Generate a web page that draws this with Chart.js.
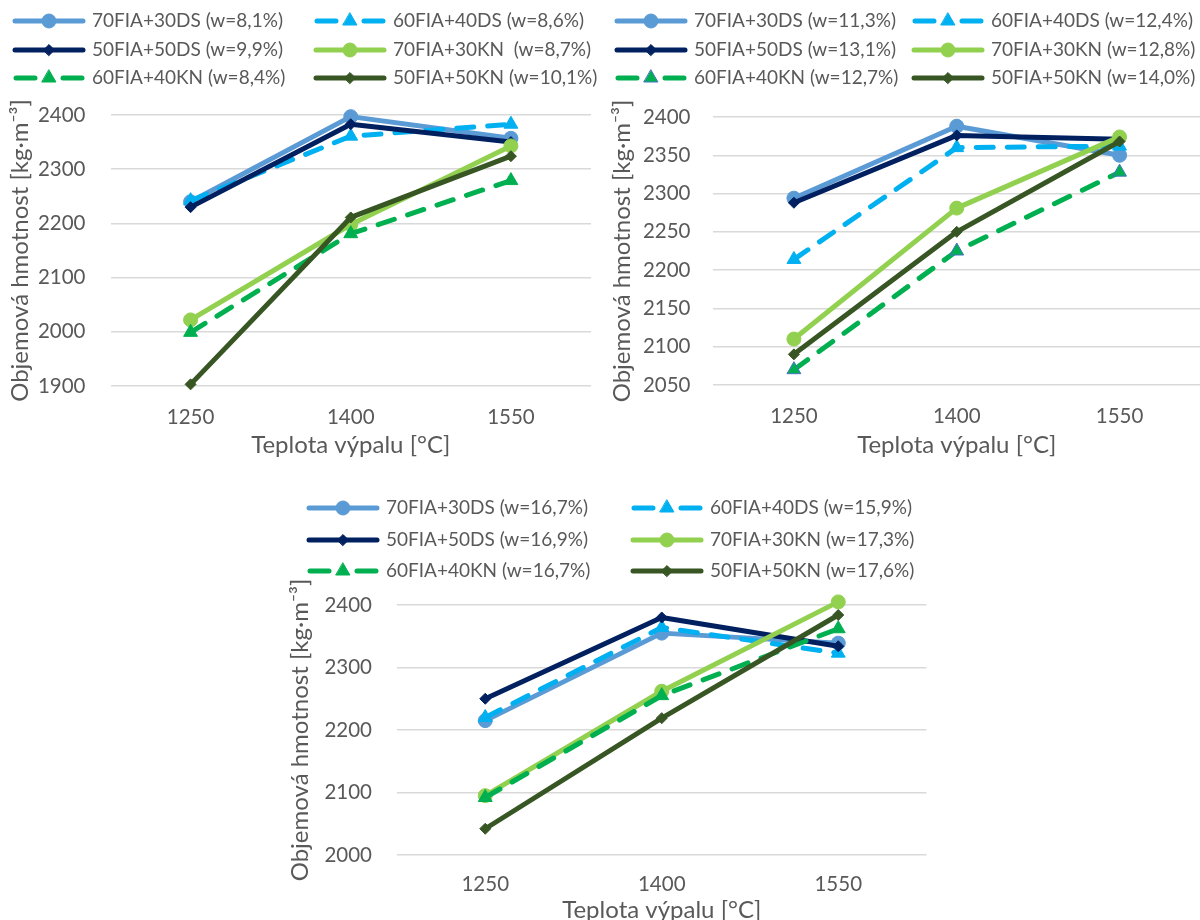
<!DOCTYPE html>
<html>
<head>
<meta charset="utf-8">
<script src="https://cdn.jsdelivr.net/npm/chart.js@4/dist/chart.umd.min.js"></script>
<style>
  html, body { margin: 0; padding: 0; background: #fff; width: 1200px; height: 920px; overflow: hidden; }
  .box { position: absolute; overflow: hidden; }
</style>
</head>
<body>
<div class="box" style="left:0;top:0;width:600px;height:460px"><canvas id="c1" width="600" height="460"></canvas></div>
<div class="box" style="left:600px;top:0;width:600px;height:460px"><canvas id="c2" width="610" height="460"></canvas></div>
<div class="box" style="left:280px;top:490px;width:660px;height:430px"><canvas id="c3" width="660" height="445"></canvas></div>
<script>
const temps = ["1250", "1400", "1550"];

// chart 1 - top left
const legend1 = ["70FIA+30DS (w=8,1%)", "60FIA+40DS (w=8,6%)", "50FIA+50DS (w=9,9%)",
  "70FIA+30KN  (w=8,7%)", "60FIA+40KN (w=8,4%)", "50FIA+50KN (w=10,1%)"];
const c1_70DS = [2240, 2397, 2357];
const c1_60DS = [2242, 2361, 2383];
const c1_50DS = [2230, 2383, 2350];
const c1_70KN = [2022, 2198, 2343];
const c1_60KN = [1999, 2181, 2279];
const c1_50KN = [1903, 2211, 2324];

// chart 2 - top right
const legend2 = ["70FIA+30DS (w=11,3%)", "60FIA+40DS (w=12,4%)", "50FIA+50DS (w=13,1%)",
  "70FIA+30KN (w=12,8%)", "60FIA+40KN (w=12,7%)", "50FIA+50KN (w=14,0%)"];
const c2_70DS = [2294, 2388, 2350];
const c2_60DS = [2214, 2360, 2362];
const c2_50DS = [2288, 2376, 2371];
const c2_70KN = [2110, 2281, 2374];
const c2_60KN = [2070, 2225, 2328];
const c2_50KN = [2090, 2250, 2368];

// chart 3 - bottom
const legend3 = ["70FIA+30DS (w=16,7%)", "60FIA+40DS (w=15,9%)", "50FIA+50DS (w=16,9%)",
  "70FIA+30KN (w=17,3%)", "60FIA+40KN (w=16,7%)", "50FIA+50KN (w=17,6%)"];
const c3_70DS = [2215, 2355, 2339];
const c3_60DS = [2220, 2364, 2323];
const c3_50DS = [2250, 2380, 2334];
const c3_70KN = [2095, 2262, 2405];
const c3_60KN = [2092, 2255, 2362];
const c3_50KN = [2042, 2219, 2384];

const styles = [
  { color: "#5B9BD5", point: "circle", r: 7, dash: null },
  { color: "#00B0F0", point: "triangle", r: 8, dash: [17, 14] },
  { color: "#002060", point: "rectRot", r: 5.5, dash: null },
  { color: "#92D050", point: "circle", r: 7, dash: null },
  { color: "#00B050", point: "triangle", r: 8, dash: [17, 14] },
  { color: "#375623", point: "rectRot", r: 5.5, dash: null }
];

Chart.defaults.font.family = "Lato, 'Open Sans', sans-serif";
Chart.defaults.color = "#595959";

// legend in two columns, line + marker sample
const legendGrid = {
  id: "legendGrid",
  afterDraw(chart, args, opts) {
    const ctx = chart.ctx;
    ctx.save();
    chart.data.datasets.forEach((ds, i) => {
      const x = opts.cols[i % 2];
      const y = opts.rows[Math.floor(i / 2)];
      const w = 72;
      ctx.strokeStyle = ds.borderColor;
      ctx.lineWidth = ds.borderWidth;
      ctx.lineCap = "round";
      ctx.beginPath();
      if (ds.borderDash.length) {
        ctx.moveTo(x + 3, y); ctx.lineTo(x + 22, y);
        ctx.moveTo(x + w - 22, y); ctx.lineTo(x + w - 3, y);
      } else {
        ctx.moveTo(x + 2, y); ctx.lineTo(x + w - 2, y);
      }
      ctx.stroke();
      ctx.fillStyle = ds.pointBackgroundColor;
      ctx.strokeStyle = ds.pointBorderColor;
      ctx.lineWidth = 1;
      Chart.helpers.drawPoint(ctx, { pointStyle: ds.pointStyle, radius: ds.pointRadius, borderWidth: 1 }, x + w / 2, y);
      ctx.fillStyle = "#595959";
      ctx.font = "19px Lato";
      ctx.textBaseline = "middle";
      ctx.fillText(ds.label, x + w + 7, y);
    });
    ctx.restore();
  }
};

function makeChart(id, labels, series, opt) {
  const datasets = series.map((vals, i) => {
    const s = styles[i];
    return {
      label: labels[i],
      data: vals,
      borderColor: s.color,
      backgroundColor: s.color,
      borderWidth: 5,
      borderDash: s.dash || [],
      borderCapStyle: s.dash ? "round" : "butt",
      borderJoinStyle: "round",
      pointStyle: s.point,
      pointRadius: s.r,
      pointBackgroundColor: s.color,
      pointBorderColor: (opt.pointBorder && opt.pointBorder[i]) || s.color,
      pointBorderWidth: 1,
      tension: 0,
      clip: false,
      order: series.length - i
    };
  });
  return new Chart(document.getElementById(id), {
    type: "line",
    data: { labels: temps, datasets: datasets },
    options: {
      responsive: false,
      animation: false,
      events: [],
      layout: { padding: { top: opt.top, right: opt.right, left: 0, bottom: 0 } },
      plugins: {
        legend: { display: false },
        tooltip: { enabled: false },
        legendGrid: { cols: opt.cols, rows: opt.rows }
      },
      scales: {
        x: {
          offset: true,
          grid: { display: false, drawTicks: false },
          border: { display: false },
          ticks: { font: { size: 20.5 }, padding: opt.xPad },
          title: { display: true, text: "Teplota výpalu [°C]", font: { size: 24 }, padding: { top: 0, bottom: opt.xTitlePad } },
          afterFit: s => { s.height = opt.xh; }
        },
        y: {
          min: opt.min, max: opt.max,
          grid: { color: "#D9D9D9", lineWidth: 1.5, drawTicks: false },
          border: { display: false },
          ticks: { stepSize: opt.step, font: { size: 20.5 }, padding: opt.yPad, callback: v => String(v) },
          title: { display: true, text: "Objemová hmotnost [kg·m⁻³]", font: { size: 24 }, padding: { top: opt.yTitlePad, bottom: 0 } },
          afterFit: s => { s.width = opt.yw; }
        }
      }
    },
    plugins: [legendGrid]
  });
}

makeChart("c1", legend1, [c1_70DS, c1_60DS, c1_50DS, c1_70KN, c1_60KN, c1_50KN], {
  min: 1900, max: 2400, step: 100,
  top: 115, right: 0.5, yw: 110.5, xh: 74,
  xPad: 19, xTitlePad: 0, yPad: 25, yTitlePad: 5.5,
  cols: [13, 314], rows: [21, 50, 78]
});

makeChart("c2", legend2, [c2_70DS, c2_60DS, c2_50DS, c2_70KN, c2_60KN, c2_50KN], {
  min: 2050, max: 2400, step: 50,
  top: 117, right: 2.5, yw: 112.5, xh: 75,
  xPad: 19, xTitlePad: 0.5, yPad: 22, yTitlePad: 7.5,
  cols: [15, 312], rows: [21, 50, 78],
  pointBorder: [null, null, null, null, "#4472C4", null]
});

makeChart("c3", legend3, [c3_70DS, c3_60DS, c3_50DS, c3_70KN, c3_60KN, c3_50KN], {
  min: 2000, max: 2400, step: 100,
  top: 115, right: 13.5, yw: 117, xh: 80,
  xPad: 17, xTitlePad: 10.5, yPad: 25, yTitlePad: 5.5,
  cols: [27, 351], rows: [18, 50, 81]
});
</script>
</body>
</html>
